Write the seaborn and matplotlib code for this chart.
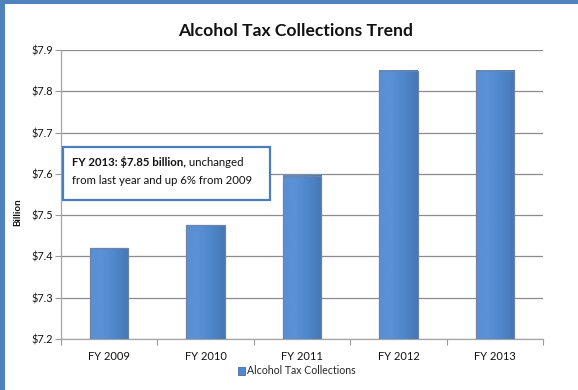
import matplotlib
matplotlib.use("Agg")
import matplotlib.pyplot as plt
from matplotlib.patches import Rectangle
from matplotlib.colors import LinearSegmentedColormap
from matplotlib.ticker import FuncFormatter, FixedLocator
import numpy as np
import seaborn as sns
import pandas as pd

# Alcohol tax collections, billions of dollars
years = ["FY 2009", "FY 2010", "FY 2011", "FY 2012", "FY 2013"]
collections = [7.42, 7.475, 7.595, 7.85, 7.85]
series_name = "Alcohol Tax Collections"
y_ticks = [7.2, 7.3, 7.4, 7.5, 7.6, 7.7, 7.8, 7.9]

sns.set_theme(style="white")
plt.rcParams["font.family"] = ["Lato", "DejaVu Sans"]

df = pd.DataFrame({"year": years, "billion": collections})

fig = plt.figure(figsize=(5.78, 3.90), dpi=100)
ax = fig.add_axes([61 / 578, 1 - 339 / 390, 482 / 578, 289 / 390])

bar_face = "#5388CB"
bar_edge = "#6F84A3"
sns.barplot(data=df, x="year", y="billion", ax=ax, color=bar_face,
            width=0.4, saturation=1, edgecolor=bar_edge, linewidth=0.9,
            zorder=3)

y_lo, y_hi = y_ticks[0], y_ticks[-1]
ax.set_ylim(y_lo, y_hi)
ax.set_xlim(-0.5, len(years) - 0.5)

# soft side-to-side shading inside the visible part of each bar
shade = LinearSegmentedColormap.from_list(
    "bar_shade", ["#5890D6", "#5A91D6", "#4F86CA", "#4677B6"])
ramp = np.linspace(0, 1, 64).reshape(1, -1)
for bar in list(ax.patches):
    x0, w = bar.get_x(), bar.get_width()
    top = bar.get_y() + bar.get_height()
    img = ax.imshow(ramp, cmap=shade, aspect="auto",
                    extent=(x0, x0 + w, y_lo, top), zorder=3.5,
                    interpolation="bilinear")
    bar.set_facecolor("none")
    bar.set_zorder(4)
ax.set_xlim(-0.5, len(years) - 0.5)
ax.set_ylim(y_lo, y_hi)

ax.set_yticks(y_ticks)
ax.yaxis.set_major_formatter(FuncFormatter(lambda v, _: f"${v:.1f}"))
ax.grid(axis="y", color="#8C8C8C", linewidth=0.9, zorder=0)
ax.set_axisbelow(True)

# tick marks sit between the categories
ax.xaxis.set_minor_locator(FixedLocator([i - 0.5 for i in range(len(years) + 1)]))
ax.tick_params(axis="x", which="major", length=0, labelsize=8, pad=9,
               colors="#111111")
ax.tick_params(axis="x", which="minor", length=4, width=0.8, color="#999999",
               direction="out", bottom=True)
ax.tick_params(axis="y", which="major", length=4, width=0.8, color="#999999",
               direction="out", left=True, labelsize=7.8, pad=2,
               labelcolor="#111111")

for side in ("top", "right"):
    ax.spines[side].set_visible(False)
for side in ("left", "bottom"):
    ax.spines[side].set_color("#A6A6A6")
    ax.spines[side].set_linewidth(0.9)

ax.set_xlabel("")
ax.set_ylabel("")

fig.text(18 / 578, 1 - 212 / 390, "Billion", rotation=90, ha="center",
         va="center", fontsize=7, fontweight="bold", color="#111111")

fig.text(296 / 578, 1 - 31 / 390, "Alcohol Tax Collections Trend",
         ha="center", va="center", fontsize=12.6, fontweight="bold",
         color="#111111")

# callout box
box = Rectangle((0.004, 0.481), 0.43, 0.183, transform=ax.transAxes,
                facecolor="white", edgecolor="#4A7EBB", linewidth=1.6,
                zorder=6, clip_on=False)
ax.add_patch(box)
head = ax.text(0.023, 0.60, "FY 2013: $7.85 billion,", transform=ax.transAxes,
               fontsize=8.2, fontweight="bold", color="#111111", va="baseline",
               zorder=7)
ax.annotate(" unchanged", xy=(1, 0), xycoords=head, va="bottom", ha="left",
            fontsize=8.2, color="#111111", zorder=7)
ax.text(0.023, 0.537, "from last year and up 6% from 2009",
        transform=ax.transAxes, fontsize=8.2, color="#111111",
        va="baseline", zorder=7)

legend_handle = Rectangle((0, 0), 1, 1, facecolor=bar_face, edgecolor="#3E6CA8",
                          linewidth=0.6)
fig.legend([legend_handle], [series_name], loc="center",
           bbox_to_anchor=(297 / 578, 1 - 371 / 390), frameon=False,
           fontsize=7.6, handlelength=0.7, handleheight=0.7,
           handletextpad=0.2, borderpad=0)

# slide border strips
fig.patches.append(Rectangle((0, 0), 5 / 578, 1, transform=fig.transFigure,
                             facecolor="#4F81BD", edgecolor="none", zorder=10))
fig.patches.append(Rectangle((0, 1 - 4 / 390), 1, 4 / 390,
                             transform=fig.transFigure, facecolor="#4F81BD",
                             edgecolor="none", zorder=10))

fig.savefig("out.png", dpi=100)
